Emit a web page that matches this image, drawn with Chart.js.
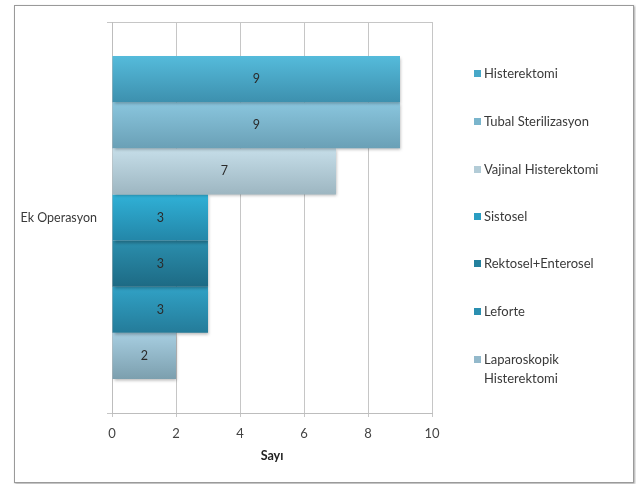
<!DOCTYPE html>
<html lang="tr">
<head>
<meta charset="UTF-8">
<title>Ek Operasyon</title>
<script src="https://cdn.jsdelivr.net/npm/chart.js"></script>
<style>
    body { margin: 0; background: #fff; font-family: Lato, sans-serif; }
    #wrap { position: relative; width: 636px; height: 484px; }
    #frame { position: absolute; left: 14px; top: 5px; width: 618px; height: 476px;
             border: 1px solid #9a9a9a; box-shadow: 1px 1px 2px rgba(0,0,0,0.35); }
    #chart { position: absolute; left: 0; top: 0; }
    #legend { position: absolute; left: 474px; top: 0; font-size: 13px; color: #3a3a3a; }
    #legend div { position: absolute; white-space: nowrap; line-height: 19px; padding-left: 10px; }
    #legend span { position: absolute; left: 0; top: 6px; width: 7px; height: 7px; }
</style>
</head>
<body>
<div id="wrap">
    <div id="frame"></div>
    <canvas id="chart" width="636" height="484"></canvas>
    <div id="legend"></div>
</div>

<script>
    var categories = ['Ek Operasyon'];
    var seriesNames = ['Histerektomi', 'Tubal Sterilizasyon', 'Vajinal Histerektomi', 'Sistosel',
                       'Rektosel+Enterosel', 'Leforte', 'Laparoskopik Histerektomi'];
    var seriesValues = [9, 9, 7, 3, 3, 3, 2];
    var xTicks = [0, 2, 4, 6, 8, 10];

    // top / bottom colour of each bar's gradient
    var topColors = ['#55bbdb', '#8ac6de', '#c6dee9', '#30b1d7', '#2b8fae', '#31a2c6', '#a7cee1'];
    var bottomColors = ['#3d90ae', '#6aa0b6', '#9db6c1', '#2386a8', '#1d6a84', '#247b99', '#7c9fae'];
    var legendColors = ['#47a8c8', '#7ab5cc', '#b3ccd7', '#2a9dc2', '#24809d', '#2a8fb0', '#93b9cb'];
    var legendTops = [64, 112, 160, 207, 254, 302, 350];

    var datasets = seriesNames.map(function (name, i) {
        return {
            label: name,
            data: [seriesValues[i]],
            backgroundColor: legendColors[i],
            borderWidth: 0,
            categoryPercentage: 0.826,
            barPercentage: 1
        };
    });

    var gradientBars = {
        id: 'gradientBars',
        beforeDatasetsDraw: function (chart) {
            var ctx = chart.ctx;
            chart.data.datasets.forEach(function (ds, i) {
                chart.getDatasetMeta(i).data.forEach(function (el) {
                    var g = ctx.createLinearGradient(0, el.y - el.height / 2, 0, el.y + el.height / 2);
                    g.addColorStop(0, topColors[i]);
                    g.addColorStop(1, bottomColors[i]);
                    el.options = Object.assign({}, el.options, { backgroundColor: g });
                });
            });
            ctx.save();
            ctx.shadowColor = 'rgba(0,0,0,0.28)';
            ctx.shadowOffsetX = 1;
            ctx.shadowOffsetY = 2;
            ctx.shadowBlur = 3;
        },
        afterDatasetsDraw: function (chart) {
            var ctx = chart.ctx;
            ctx.restore();
            ctx.save();
            ctx.font = '12.5px Lato';
            ctx.fillStyle = '#2a2a2a';
            ctx.textAlign = 'center';
            ctx.textBaseline = 'middle';
            chart.data.datasets.forEach(function (ds, i) {
                chart.getDatasetMeta(i).data.forEach(function (el, j) {
                    ctx.fillText(String(ds.data[j]), (el.base + el.x) / 2, el.y);
                });
            });
            ctx.restore();
        }
    };

    new Chart(document.getElementById('chart'), {
        type: 'bar',
        data: { labels: categories, datasets: datasets },
        plugins: [gradientBars],
        options: {
            indexAxis: 'y',
            responsive: false,
            animation: false,
            layout: { padding: { left: 0, top: 22, right: 204, bottom: 0 } },
            plugins: { legend: { display: false }, tooltip: { enabled: false } },
            scales: {
                x: {
                    min: 0,
                    max: 10,
                    afterBuildTicks: function (scale) {
                        scale.ticks = xTicks.map(function (v) { return { value: v }; });
                    },
                    afterFit: function (scale) { scale.height = 71; },
                    grid: { color: '#c6c6c6', tickLength: 4 },
                    border: { color: '#bdbdbd' },
                    ticks: { color: '#444', font: { family: 'Lato', size: 13 }, padding: 9 },
                    title: { display: true, text: 'Sayı', color: '#222',
                             font: { family: 'Lato', size: 12.5, weight: 'bold' }, padding: { top: 4, bottom: 21 } }
                },
                y: {
                    afterFit: function (scale) { scale.width = 112; },
                    grid: { color: '#c6c6c6', tickLength: 5 },
                    border: { color: '#bdbdbd' },
                    ticks: { color: '#3a3a3a', font: { family: 'Lato', size: 12.5 }, padding: 10 }
                }
            }
        }
    });

    var legend = document.getElementById('legend');
    seriesNames.forEach(function (name, i) {
        var item = document.createElement('div');
        item.style.top = legendTops[i] + 'px';
        var sw = document.createElement('span');
        sw.style.background = legendColors[i];
        item.appendChild(sw);
        var parts = name === 'Laparoskopik Histerektomi' ? ['Laparoskopik', 'Histerektomi'] : [name];
        parts.forEach(function (p, k) {
            if (k) item.appendChild(document.createElement('br'));
            item.appendChild(document.createTextNode(p));
        });
        legend.appendChild(item);
    });
</script>
</body>
</html>
